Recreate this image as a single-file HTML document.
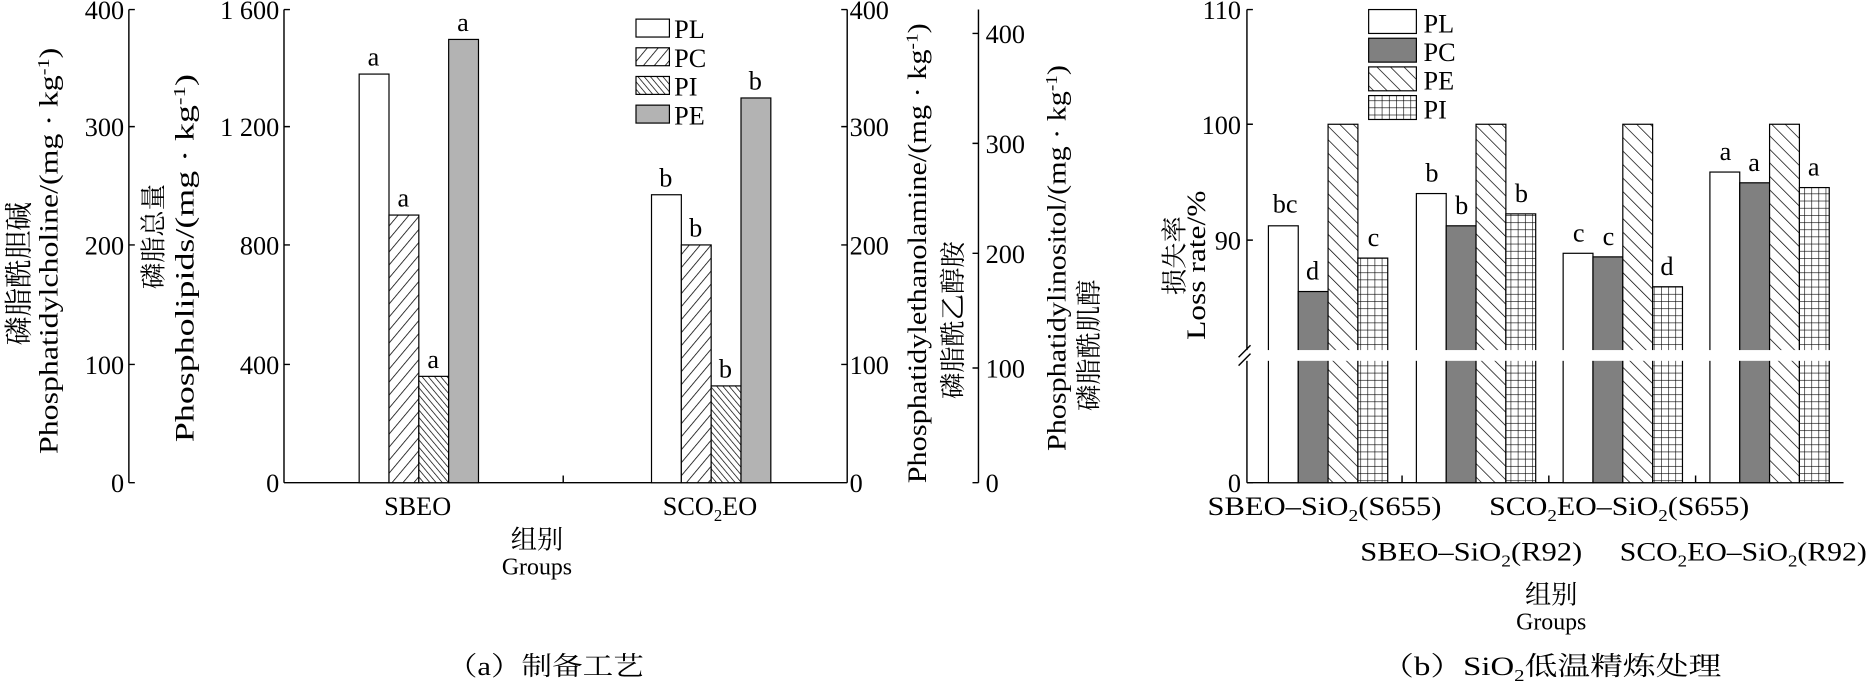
<!DOCTYPE html>
<html><head><meta charset="utf-8"><style>html,body{margin:0;padding:0;background:#fff}svg{display:block}</style></head><body>
<svg width="1871" height="687" viewBox="0 0 1568 575" preserveAspectRatio="none" xmlns="http://www.w3.org/2000/svg" font-family="Liberation Serif, Noto Serif CJK SC, serif" font-size="22" fill="#000">
<defs>
<pattern id="pc" width="7" height="7" patternUnits="userSpaceOnUse" patternTransform="rotate(40)"><rect width="7" height="7" fill="#fff"/><line x1="0" y1="0" x2="0" y2="7" stroke="#000" stroke-width="1.3"/></pattern>
<pattern id="pi" width="4" height="4" patternUnits="userSpaceOnUse" patternTransform="rotate(-40)"><rect width="4" height="4" fill="#fff"/><line x1="0" y1="0" x2="0" y2="4" stroke="#000" stroke-width="1.2"/></pattern>
<pattern id="pe2" width="8" height="8" patternUnits="userSpaceOnUse" patternTransform="rotate(-45)"><rect width="8" height="8" fill="#fff"/><line x1="0" y1="0" x2="0" y2="8" stroke="#000" stroke-width="1.2"/></pattern>
<pattern id="grid" width="6" height="6" patternUnits="userSpaceOnUse"><rect width="6" height="6" fill="#fff"/><path d="M0 0H6M0 0V6" stroke="#000" stroke-width="1"/></pattern>
</defs>
<g stroke="#000" stroke-width="1.2" fill="none">
<line x1="108" y1="8" x2="108" y2="404"/>
<line x1="238" y1="8" x2="238" y2="404"/>
<line x1="710" y1="8" x2="710" y2="404"/>
<line x1="820" y1="8" x2="820" y2="404"/>
<line x1="238" y1="404" x2="710" y2="404"/>
<line x1="472" y1="404" x2="472" y2="398"/>
<path d="M108 8h5M108 106h5M108 205h5M108 305h5M108 404h5"/>
<path d="M238 8h5M238 106h5M238 205h5M238 305h5"/>
<path d="M710 8h-5M710 106h-5M710 205h-5M710 305h-5"/>
<path d="M820 28h-5M820 120h-5M820 212h-5M820 308h-5M820 404h-5"/>
</g>
<g text-anchor="end">
<text x="104" y="16">400</text><text x="104" y="114">300</text><text x="104" y="213">200</text><text x="104" y="313">100</text><text x="104" y="412">0</text>
<text x="234" y="16">1 600</text><text x="234" y="114">1 200</text><text x="234" y="213">800</text><text x="234" y="313">400</text><text x="234" y="412">0</text>
</g>
<g>
<text x="712" y="16">400</text><text x="712" y="114">300</text><text x="712" y="213">200</text><text x="712" y="313">100</text><text x="712" y="412">0</text>
<text x="826" y="36">400</text><text x="826" y="128">300</text><text x="826" y="220">200</text><text x="826" y="316">100</text><text x="826" y="412">0</text>
</g>
<g stroke="#000" stroke-width="1">
<rect x="301" y="62" width="25" height="342" fill="#fff"/>
<rect x="326" y="180" width="25" height="224" fill="url(#pc)"/>
<rect x="351" y="315" width="25" height="89" fill="url(#pi)"/>
<rect x="376" y="33" width="25" height="371" fill="#b3b3b3"/>
<rect x="546" y="163" width="25" height="241" fill="#fff"/>
<rect x="571" y="205" width="25" height="199" fill="url(#pc)"/>
<rect x="596" y="323" width="25" height="81" fill="url(#pi)"/>
<rect x="621" y="82" width="25" height="322" fill="#b3b3b3"/>
<rect x="533" y="16" width="28" height="15" fill="#fff"/>
<rect x="533" y="40" width="28" height="15" fill="url(#pc)"/>
<rect x="533" y="64" width="28" height="15" fill="url(#pi)"/>
<rect x="533" y="88" width="28" height="15" fill="#b3b3b3"/>
</g>
<g>
<text x="565" y="32">PL</text><text x="565" y="56">PC</text><text x="565" y="80">PI</text><text x="565" y="104">PE</text>
</g>
<g text-anchor="middle">
<text x="313" y="55">a</text><text x="338" y="173">a</text><text x="363" y="308">a</text><text x="388" y="26">a</text>
<text x="558" y="156">b</text><text x="583" y="198">b</text><text x="608" y="316">b</text><text x="633" y="75">b</text>
<text x="350" y="431">SBEO</text>
<text x="595" y="431">SCO<tspan font-size="14" dy="5">2</tspan><tspan dy="-5">EO</tspan></text>
<text x="450" y="459">组别</text><text x="450" y="481" font-size="20">Groups</text>
<text x="457" y="565" textLength="165" lengthAdjust="spacingAndGlyphs">（a）制备工艺</text>
<text x="1300" y="565" textLength="285" lengthAdjust="spacingAndGlyphs">（b）SiO<tspan font-size="14" dy="5">2</tspan><tspan dy="-5">低温精炼处理</tspan></text>
</g>
<g text-anchor="middle">
<text transform="translate(24,229) rotate(-90)" font-size="24">磷脂酰胆碱</text>
<text transform="translate(48,210) rotate(-90)" textLength="340" lengthAdjust="spacingAndGlyphs">Phosphatidylcholine/(mg · kg<tspan font-size="14" dy="-7">-1</tspan><tspan dy="7">)</tspan></text>
<text transform="translate(136,198) rotate(-90)">磷脂总量</text>
<text transform="translate(162,216) rotate(-90)" textLength="308" lengthAdjust="spacingAndGlyphs">Phospholipids/(mg · kg<tspan font-size="14" dy="-7">-1</tspan><tspan dy="7">)</tspan></text>
<text transform="translate(776,212) rotate(-90)" textLength="385" lengthAdjust="spacingAndGlyphs">Phosphatidylethanolamine/(mg · kg<tspan font-size="14" dy="-7">-1</tspan><tspan dy="7">)</tspan></text>
<text transform="translate(806,268) rotate(-90)" font-size="22">磷脂酰乙醇胺</text>
<text transform="translate(893,216) rotate(-90)" textLength="323" lengthAdjust="spacingAndGlyphs">Phosphatidylinositol/(mg · kg<tspan font-size="14" dy="-7">-1</tspan><tspan dy="7">)</tspan></text>
<text transform="translate(920,289) rotate(-90)" font-size="22">磷脂酰肌醇</text>
<text transform="translate(992,214) rotate(-90)" font-size="22">损失率</text>
<text transform="translate(1010,222) rotate(-90)" textLength="125" lengthAdjust="spacingAndGlyphs">Loss rate/%</text>
</g>
<g stroke="#000" stroke-width="1.2" fill="none">
<line x1="1045" y1="8" x2="1045" y2="404"/>
<line x1="1045" y1="404" x2="1545" y2="404"/>
<path d="M1045 8h5M1045 104h5M1045 201h5M1045 404h5"/>
<path d="M1175 404v-6M1298 404v-6M1421 404v-6"/>
</g>
<g text-anchor="end">
<text x="1040" y="16">110</text><text x="1040" y="112">100</text><text x="1040" y="209">90</text><text x="1040" y="412">0</text>
</g>
<g stroke="#000" stroke-width="1">
<rect x="1063" y="189" width="25" height="215" fill="#fff"/>
<rect x="1088" y="244" width="25" height="160" fill="#808080"/>
<rect x="1113" y="104" width="25" height="300" fill="url(#pe2)"/>
<rect x="1138" y="216" width="25" height="188" fill="url(#grid)"/>
<rect x="1187" y="162" width="25" height="242" fill="#fff"/>
<rect x="1212" y="189" width="25" height="215" fill="#808080"/>
<rect x="1237" y="104" width="25" height="300" fill="url(#pe2)"/>
<rect x="1262" y="179" width="25" height="225" fill="url(#grid)"/>
<rect x="1310" y="212" width="25" height="192" fill="#fff"/>
<rect x="1335" y="215" width="25" height="189" fill="#808080"/>
<rect x="1360" y="104" width="25" height="300" fill="url(#pe2)"/>
<rect x="1385" y="240" width="25" height="164" fill="url(#grid)"/>
<rect x="1433" y="144" width="25" height="260" fill="#fff"/>
<rect x="1458" y="153" width="25" height="251" fill="#808080"/>
<rect x="1483" y="104" width="25" height="300" fill="url(#pe2)"/>
<rect x="1508" y="157" width="25" height="247" fill="url(#grid)"/>
<rect x="1147" y="8" width="40" height="20" fill="#fff"/>
<rect x="1147" y="32" width="40" height="20" fill="#808080"/>
<rect x="1147" y="56" width="40" height="20" fill="url(#pe2)"/>
<rect x="1147" y="80" width="40" height="20" fill="url(#grid)"/>
</g>
<rect x="1030" y="293" width="520" height="9" fill="#fff"/>
<path d="M1038 299l10-10M1038 306l10-10" stroke="#000" stroke-width="1.2"/>
<g>
<text x="1193" y="27">PL</text><text x="1193" y="51">PC</text><text x="1193" y="75">PE</text><text x="1193" y="99">PI</text>
</g>
<g text-anchor="middle">
<text x="1077" y="178">bc</text><text x="1100" y="234">d</text><text x="1151" y="206">c</text>
<text x="1200" y="152">b</text><text x="1225" y="179">b</text><text x="1275" y="169">b</text>
<text x="1323" y="202">c</text><text x="1348" y="205">c</text><text x="1397" y="230">d</text>
<text x="1446" y="134">a</text><text x="1470" y="143">a</text><text x="1520" y="147">a</text>
<text x="1110" y="431" textLength="196" lengthAdjust="spacingAndGlyphs">SBEO–SiO<tspan font-size="14" dy="5">2</tspan><tspan dy="-5">(S655)</tspan></text>
<text x="1357" y="431" textLength="218" lengthAdjust="spacingAndGlyphs">SCO<tspan font-size="14" dy="5">2</tspan><tspan dy="-5">EO–SiO</tspan><tspan font-size="14" dy="5">2</tspan><tspan dy="-5">(S655)</tspan></text>
<text x="1233" y="469" textLength="186" lengthAdjust="spacingAndGlyphs">SBEO–SiO<tspan font-size="14" dy="5">2</tspan><tspan dy="-5">(R92)</tspan></text>
<text x="1461" y="469" textLength="207" lengthAdjust="spacingAndGlyphs">SCO<tspan font-size="14" dy="5">2</tspan><tspan dy="-5">EO–SiO</tspan><tspan font-size="14" dy="5">2</tspan><tspan dy="-5">(R92)</tspan></text>
<text x="1300" y="505">组别</text><text x="1300" y="527" font-size="20">Groups</text>
</g>
</svg>
</body></html>
